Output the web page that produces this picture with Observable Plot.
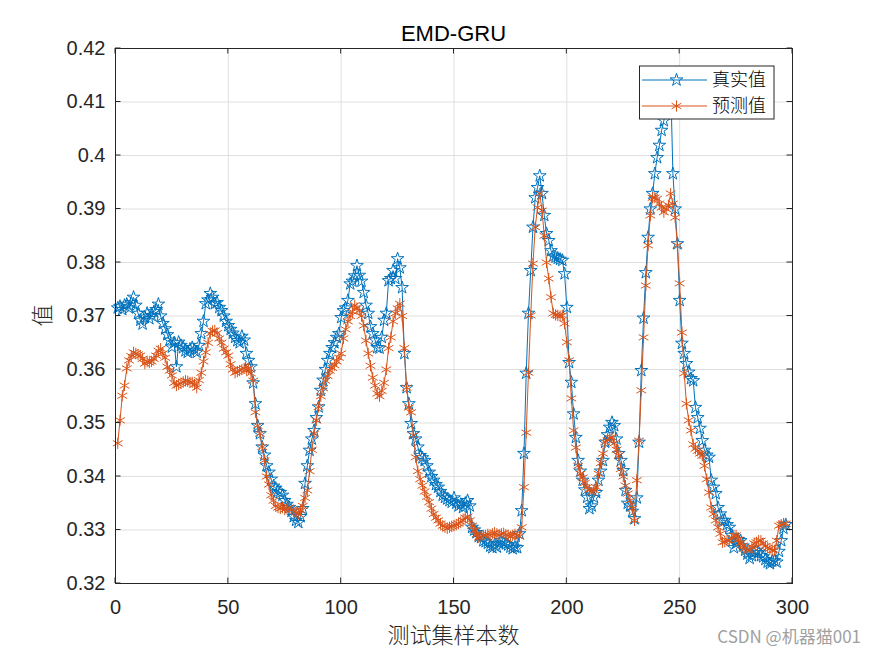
<!DOCTYPE html>
<html><head><meta charset="utf-8">
<script src="https://cdn.jsdelivr.net/npm/d3@7"></script>
<script src="https://cdn.jsdelivr.net/npm/@observablehq/plot@0.6"></script>
<style>html,body{margin:0;padding:0;background:#fff;}</style>
</head><body><div id="chart"></div>
<script>
// ---- data ----
const trueVals = [
0.3715,0.3718,0.3712,0.3720,0.3722,0.3715,0.3725,0.3735,0.3720,0.3705,
0.3692,0.3685,0.3698,0.3705,0.3695,0.3701,0.3708,0.3712,0.3722,0.3700,
0.3686,0.3676,0.3665,0.3655,0.3642,0.3650,0.3605,0.3651,0.3645,0.3641,
0.3635,0.3632,0.3638,0.3641,0.3636,0.3632,0.3645,0.3667,0.3690,0.3723,
0.3730,0.3742,0.3735,0.3723,0.3725,0.3716,0.3710,0.3700,0.3690,0.3682,
0.3675,0.3668,0.3660,0.3654,0.3650,0.3662,0.3655,0.3630,0.3617,0.3605,
0.3575,0.3536,0.3495,0.3480,0.3455,0.3440,0.3420,0.3408,0.3395,0.3382,
0.3378,0.3372,0.3370,0.3365,0.3355,0.3348,0.3342,0.3335,0.3325,0.3318,
0.3314,0.3325,0.3340,0.3387,0.3420,0.3449,0.3470,0.3486,0.3510,0.3530,
0.3561,0.3580,0.3600,0.3617,0.3630,0.3641,0.3650,0.3660,0.3667,0.3697,
0.3710,0.3715,0.3729,0.3760,0.3765,0.3775,0.3794,0.3776,0.3765,0.3744,
0.3720,0.3705,0.3680,0.3667,0.3655,0.3641,0.3640,0.3660,0.3692,0.3705,
0.3766,0.3770,0.3785,0.3770,0.3807,0.3790,0.3753,0.3630,0.3566,0.3536,
0.3499,0.3480,0.3470,0.3455,0.3439,0.3435,0.3430,0.3420,0.3408,0.3400,
0.3393,0.3385,0.3380,0.3372,0.3365,0.3361,0.3358,0.3355,0.3352,0.3360,
0.3350,0.3345,0.3348,0.3342,0.3350,0.3355,0.3345,0.3305,0.3300,0.3295,
0.3288,0.3286,0.3280,0.3278,0.3275,0.3270,0.3267,0.3272,0.3268,0.3275,
0.3280,0.3276,0.3274,0.3272,0.3268,0.3265,0.3268,0.3267,0.3293,0.3336,
0.3443,0.3593,0.3705,0.3785,0.3866,0.3921,0.3940,0.3962,0.3929,0.3888,
0.3854,0.3841,0.3822,0.3812,0.3810,0.3808,0.3806,0.3804,0.3779,0.3716,
0.3613,0.3576,0.3517,0.3473,0.3430,0.3410,0.3393,0.3375,0.3361,0.3340,
0.3345,0.3361,0.3370,0.3393,0.3410,0.3430,0.3464,0.3478,0.3492,0.3501,
0.3495,0.3470,0.3443,0.3430,0.3411,0.3374,0.3350,0.3345,0.3335,0.3321,
0.3360,0.3464,0.3598,0.3696,0.3781,0.3847,0.3900,0.3929,0.3966,0.3996,
0.4019,0.4047,0.4065,0.4095,0.4125,0.4140,0.3966,0.3900,0.3835,0.3729,
0.3649,0.3630,0.3611,0.3595,0.3583,0.3579,0.3529,0.3510,0.3490,0.3467,
0.3449,0.3440,0.3436,0.3393,0.3380,0.3368,0.3342,0.3330,0.3318,0.3318,
0.3310,0.3305,0.3290,0.3267,0.3275,0.3282,0.3280,0.3270,0.3262,0.3255,
0.3247,0.3252,0.3258,0.3262,0.3258,0.3252,0.3250,0.3245,0.3240,0.3237,
0.3242,0.3243,0.3240,0.3260,0.3280,0.3303,0.3310
];
const predVals = [
0.3462,0.3505,0.3551,0.3570,0.3602,0.3617,0.3625,0.3632,0.3630,0.3628,
0.3626,0.3620,0.3611,0.3615,0.3613,0.3615,0.3620,0.3626,0.3635,0.3639,
0.3630,0.3622,0.3605,0.3598,0.3589,0.3575,0.3570,0.3572,0.3574,0.3577,
0.3579,0.3578,0.3576,0.3576,0.3572,0.3566,0.3580,0.3594,0.3615,0.3632,
0.3650,0.3667,0.3672,0.3673,0.3668,0.3658,0.3650,0.3639,0.3632,0.3626,
0.3610,0.3600,0.3594,0.3596,0.3598,0.3600,0.3602,0.3600,0.3602,0.3593,
0.3579,0.3520,0.3495,0.3480,0.3455,0.3430,0.3400,0.3385,0.3365,0.3355,
0.3345,0.3342,0.3340,0.3342,0.3338,0.3340,0.3342,0.3338,0.3335,0.3333,
0.3330,0.3336,0.3345,0.3360,0.3374,0.3410,0.3450,0.3480,0.3505,0.3530,
0.3550,0.3565,0.3579,0.3588,0.3598,0.3603,0.3608,0.3615,0.3622,0.3630,
0.3658,0.3675,0.3690,0.3700,0.3708,0.3720,0.3715,0.3710,0.3700,0.3682,
0.3654,0.3630,0.3607,0.3585,0.3570,0.3555,0.3550,0.3560,0.3575,0.3600,
0.3640,0.3660,0.3690,0.3705,0.3714,0.3723,0.3700,0.3640,0.3566,0.3529,
0.3520,0.3477,0.3436,0.3410,0.3395,0.3383,0.3372,0.3362,0.3352,0.3340,
0.3330,0.3323,0.3318,0.3312,0.3308,0.3305,0.3303,0.3305,0.3307,0.3308,
0.3310,0.3312,0.3315,0.3318,0.3323,0.3325,0.3318,0.3308,0.3299,0.3292,
0.3286,0.3288,0.3290,0.3290,0.3292,0.3290,0.3293,0.3295,0.3293,0.3291,
0.3293,0.3294,0.3291,0.3290,0.3288,0.3290,0.3292,0.3290,0.3288,0.3305,
0.3380,0.3482,0.3594,0.3701,0.3798,0.3866,0.3903,0.3929,0.3897,0.3850,
0.3800,0.3770,0.3735,0.3705,0.3702,0.3701,0.3700,0.3701,0.3686,0.3651,
0.3617,0.3546,0.3486,0.3454,0.3420,0.3405,0.3398,0.3388,0.3380,0.3375,
0.3370,0.3375,0.3380,0.3405,0.3425,0.3443,0.3464,0.3468,0.3472,0.3473,
0.3462,0.3450,0.3439,0.3414,0.3400,0.3383,0.3368,0.3355,0.3340,0.3318,
0.3393,0.3467,0.3561,0.3660,0.3757,0.3832,0.3888,0.3921,0.3921,0.3919,
0.3910,0.3903,0.3894,0.3900,0.3907,0.3929,0.3910,0.3884,0.3832,0.3761,
0.3669,0.3593,0.3536,0.3505,0.3486,0.3460,0.3452,0.3448,0.3443,0.3439,
0.3420,0.3395,0.3370,0.3342,0.3330,0.3318,0.3305,0.3293,0.3277,0.3278,
0.3280,0.3280,0.3285,0.3290,0.3290,0.3282,0.3275,0.3271,0.3265,0.3262,
0.3262,0.3268,0.3275,0.3277,0.3280,0.3280,0.3275,0.3270,0.3267,0.3265,
0.3262,0.3262,0.3280,0.3308,0.3310,0.3312,0.3312
];
const xTicks = [0, 50, 100, 150, 200, 250, 300];
const yTicks = [0.32, 0.33, 0.34, 0.35, 0.36, 0.37, 0.38, 0.39, 0.40, 0.41, 0.42];
const seriesNames = ["真实值", "预测值"];
const seriesColors = ["#0072BD", "#D95319"];
const titleText = "EMD-GRU";
const xLabelText = "测试集样本数";
const yLabelText = "值";
const watermarkText = "CSDN @机器猫001";

// ---- build tables ----
const trueRows = trueVals.map((v, i) => ({x: i + 1, y: v}));
const predRows = predVals.map((v, i) => ({x: i + 1, y: v}));

const W = 875, H = 656;
const M = {left: 115, right: 83, top: 48, bottom: 73};
const latin = "'Liberation Sans', Arial, Helvetica, sans-serif";
const cjk = "'Noto Sans CJK SC', 'Noto Sans', sans-serif";
const fmt = d3.format(".2f");
const starR = 4.0, astR = 5.3, mkW = 1;

const chart = Plot.plot({
  width: W, height: H,
  marginLeft: M.left, marginRight: M.right, marginTop: M.top, marginBottom: M.bottom,
  style: {fontFamily: latin, fontSize: "20px", color: "#262626", background: "#fff", overflow: "visible"},
  x: {domain: [0, 300], ticks: xTicks, label: null},
  y: {domain: [0.32, 0.42], ticks: yTicks, label: null},
  marks: [
    Plot.gridX(xTicks, {stroke: "#dfdfdf", strokeOpacity: 1, strokeWidth: 1}),
    Plot.gridY(yTicks, {stroke: "#dfdfdf", strokeOpacity: 1, strokeWidth: 1}),
    Plot.line(trueRows, {x: "x", y: "y", stroke: seriesColors[0], strokeWidth: 1}),
    Plot.dot(trueRows, {x: "x", y: "y", symbol: "star", r: starR, stroke: seriesColors[0], fill: "none", strokeWidth: mkW}),
    Plot.line(predRows, {x: "x", y: "y", stroke: seriesColors[1], strokeWidth: 1}),
    Plot.dot(predRows, {x: "x", y: "y", symbol: "asterisk", r: astR, stroke: seriesColors[1], fill: "none", strokeWidth: mkW}),
    Plot.axisX(xTicks, {tickSize: 0, tickPadding: 16, fontSize: 20, fill: "#262626", tickFormat: d => String(d)}),
    Plot.axisY(yTicks, {tickSize: 0, tickPadding: 10, fontSize: 20, fill: "#262626", tickFormat: d => (d === 0.4 ? "0.4" : fmt(d))}),
    Plot.frame({stroke: "#262626", strokeWidth: 1})
  ]
});
document.getElementById("chart").appendChild(chart);

// ---- scales from the plot ----
const sx = chart.scale("x"), sy = chart.scale("y");
const fx = d3.scaleLinear(sx.domain, sx.range);
const fy = d3.scaleLinear(sy.domain, sy.range);
const svg = d3.select(chart);
const [x0, x1] = sx.range, [y0, y1] = [fy(0.32), fy(0.42)];
const tl = 5.5;

// inward ticks (MATLAB style, box on)
const tg = svg.append("g").attr("stroke", "#262626").attr("stroke-width", 1);
xTicks.forEach(t => {
  tg.append("line").attr("x1", fx(t)).attr("x2", fx(t)).attr("y1", y0).attr("y2", y0 - tl);
  tg.append("line").attr("x1", fx(t)).attr("x2", fx(t)).attr("y1", y1).attr("y2", y1 + tl);
});
yTicks.forEach(t => {
  tg.append("line").attr("y1", fy(t)).attr("y2", fy(t)).attr("x1", x0).attr("x2", x0 + tl);
  tg.append("line").attr("y1", fy(t)).attr("y2", fy(t)).attr("x1", x1).attr("x2", x1 - tl);
});

// title and axis labels
const midX = (x0 + x1) / 2, midY = (y0 + y1) / 2;
svg.append("text").attr("x", midX).attr("y", 41).attr("text-anchor", "middle")
  .attr("font-family", latin).attr("font-size", 22).attr("fill", "#000").text(titleText);
svg.append("text").attr("x", midX).attr("y", 643).attr("text-anchor", "middle")
  .attr("font-family", cjk).attr("font-weight", 300).attr("font-size", 22).attr("fill", "#262626").text(xLabelText);
svg.append("text").attr("transform", `translate(50,${midY}) rotate(-90)`).attr("text-anchor", "middle")
  .attr("font-family", cjk).attr("font-weight", 300).attr("font-size", 22).attr("fill", "#262626").text(yLabelText);

// legend
const lg = svg.append("g");
const lx = 639.5, ly = 66, lw = 134.5, lh = 53;
lg.append("rect").attr("x", lx).attr("y", ly).attr("width", lw).attr("height", lh)
  .attr("fill", "#fff").attr("stroke", "#262626").attr("stroke-width", 1);
const rowsY = [80, 106];
const syms = [d3.symbolStar, d3.symbolAsterisk];
const symSizes = [Math.PI * starR * starR, Math.PI * astR * astR];
seriesNames.forEach((name, i) => {
  const yy = rowsY[i];
  lg.append("line").attr("x1", 642).attr("x2", 707).attr("y1", yy).attr("y2", yy)
    .attr("stroke", seriesColors[i]).attr("stroke-width", 1);
  lg.append("path").attr("d", d3.symbol(syms[i], symSizes[i])())
    .attr("transform", `translate(676.5,${yy})`).attr("fill", "none")
    .attr("stroke", seriesColors[i]).attr("stroke-width", mkW);
  lg.append("text").attr("x", 712).attr("y", yy).attr("dy", "0.35em").attr("text-anchor", "start")
    .attr("font-family", cjk).attr("font-weight", 300).attr("font-size", 18).attr("fill", "#000").text(name);
});

// watermark
svg.append("text").attr("x", 861).attr("y", 643).attr("text-anchor", "end")
  .attr("font-family", cjk).attr("font-size", 17).attr("fill", "#a0a0a0").text(watermarkText);
</script>
</body></html>
